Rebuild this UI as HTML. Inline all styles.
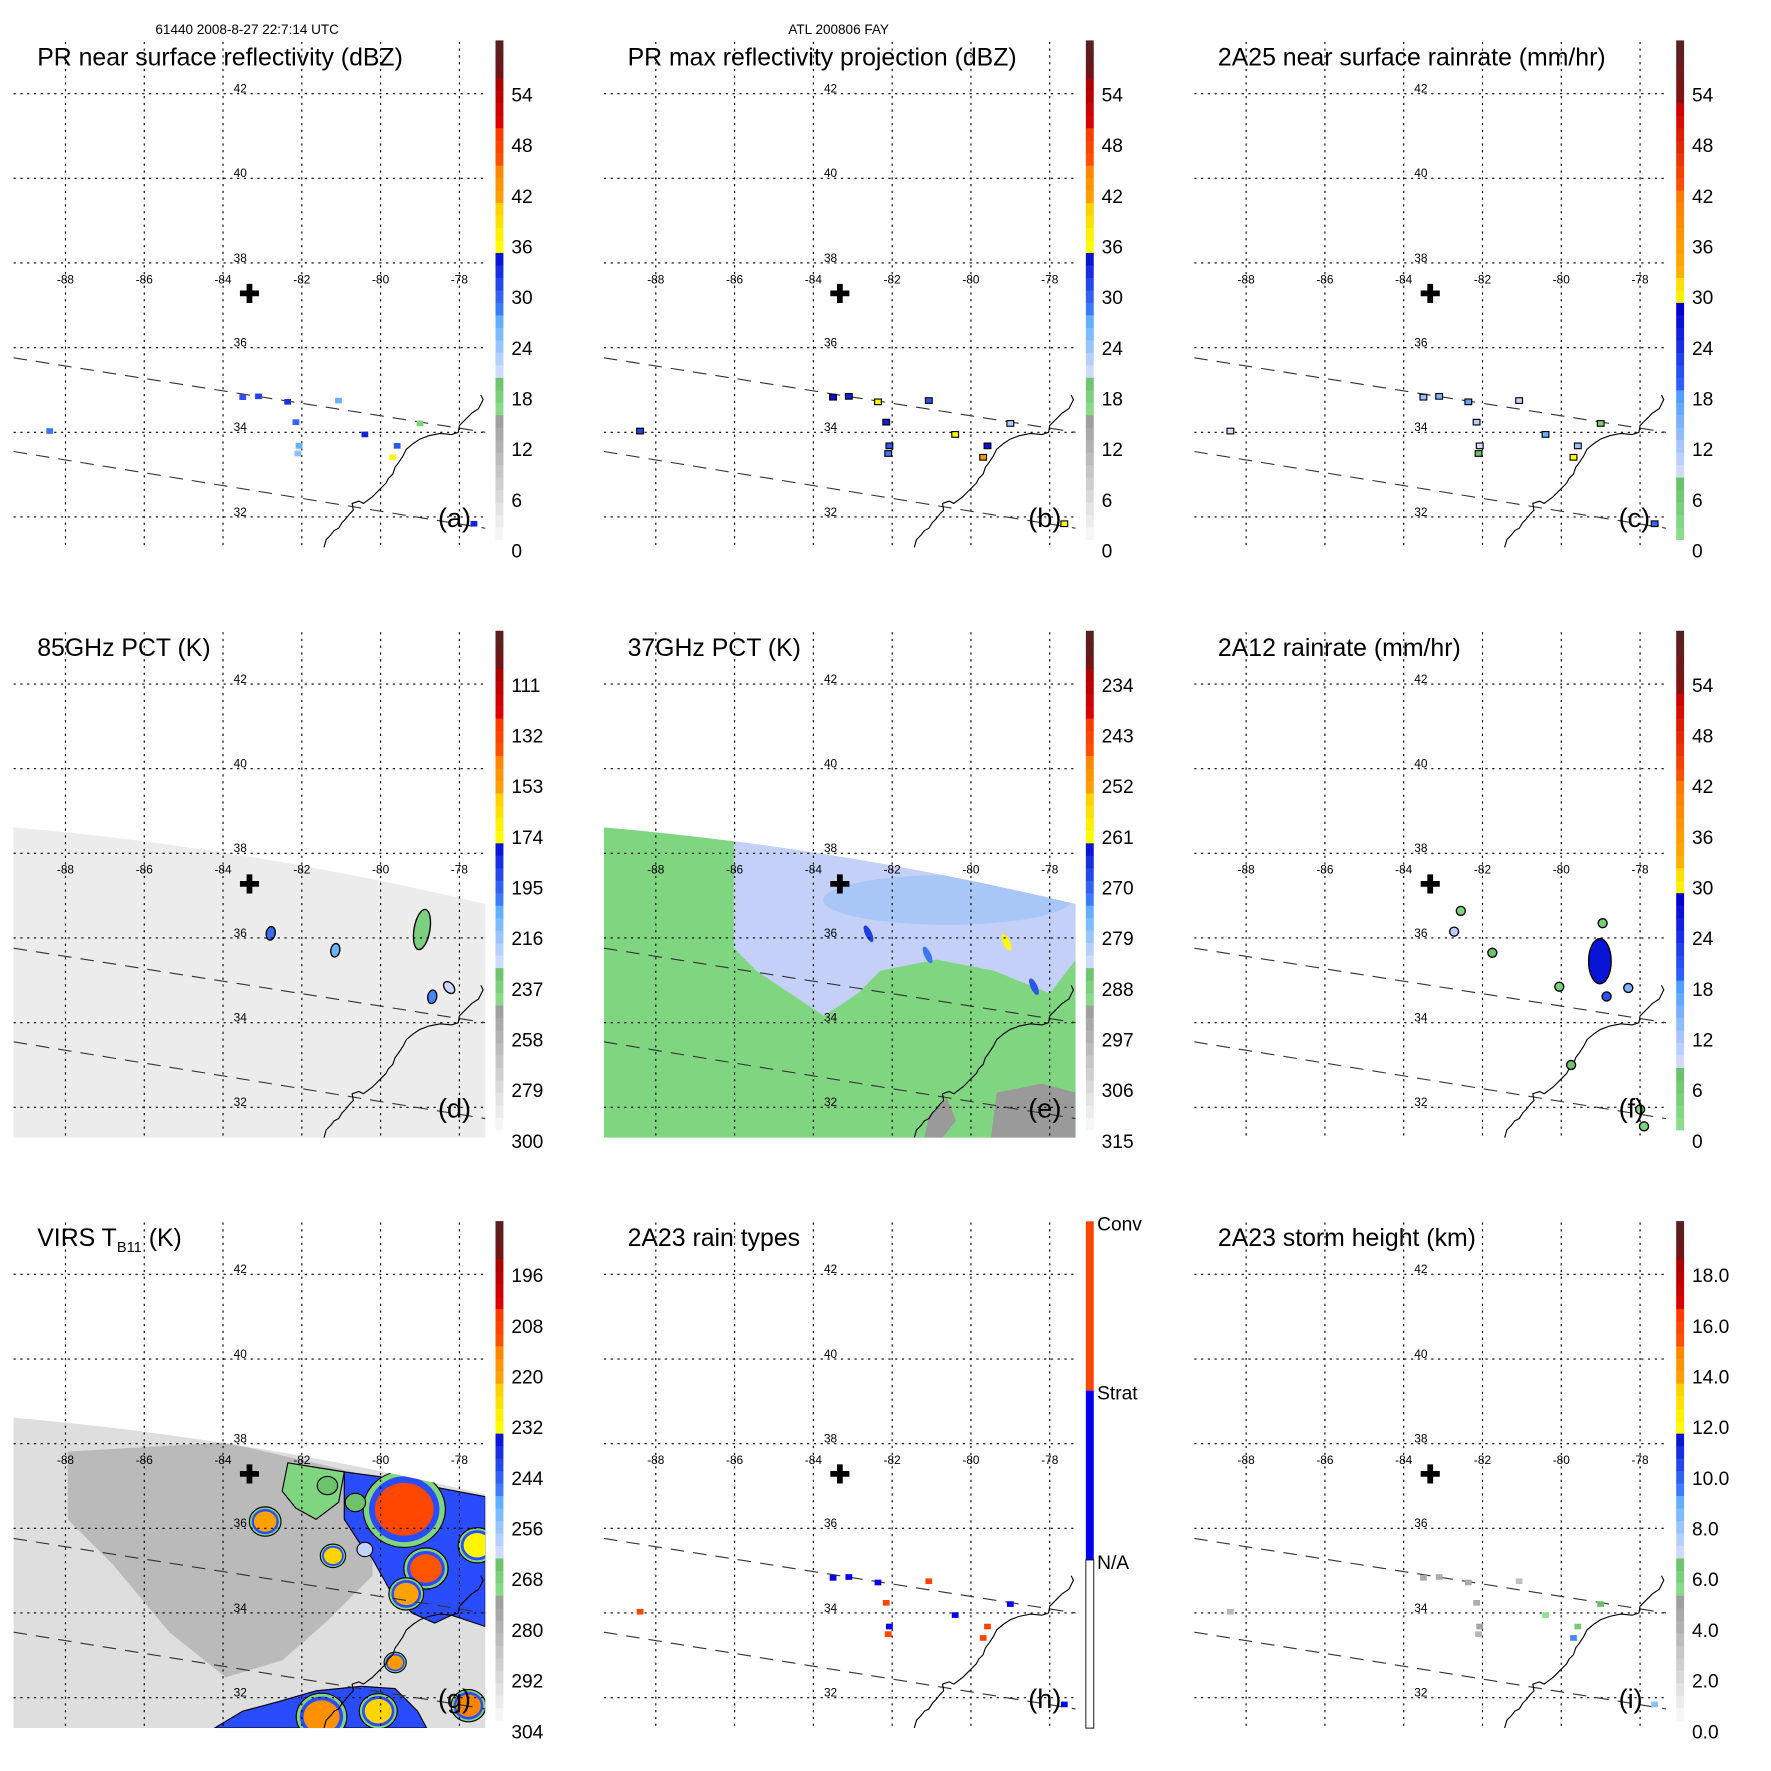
<!DOCTYPE html>
<html><head><meta charset="utf-8"><style>
html,body{margin:0;padding:0;background:#fff;}
svg{display:block;font-family:"Liberation Sans",sans-serif;}
</style></head><body>
<svg id="fig" width="1771" height="1771" viewBox="0 0 1569 1569" xmlns="http://www.w3.org/2000/svg">
<text x="219" y="30" font-size="12" text-anchor="middle">61440 2008-8-27 22:7:14 UTC</text>
<text x="743" y="30" font-size="12" text-anchor="middle">ATL 200806 FAY</text>
</svg>
<script>
// ---- data ----
const lonTicks=[-88,-86,-84,-82,-80,-78];
const latTicks=[42,40,38,36,34,32];
const titles=["PR near surface reflectivity (dBZ)","PR max reflectivity projection (dBZ)","2A25 near surface rainrate (mm/hr)","85GHz PCT (K)","37GHz PCT (K)","2A12 rainrate (mm/hr)","VIRS","2A23 rain types","2A23 storm height (km)"];
const letters=["(a)","(b)","(c)","(d)","(e)","(f)","(g)","(h)","(i)"];
const cbLabelsA=["0","6","12","18","24","30","36","42","48","54"];
const cbLabelsD=["300","279","258","237","216","195","174","153","132","111"];
const cbLabelsE=["315","306","297","288","279","270","261","252","243","234"];
const cbLabelsG=["304","292","280","268","256","244","232","220","208","196"];
const cbLabelsI=["0.0","2.0","4.0","6.0","8.0","10.0","12.0","14.0","16.0","18.0"];
const prCellLon=[-83.50,-82.36,-82.15,-82.07,-88.40,-79.69,-79.58,-77.63,-79.00,-81.07,-83.10,-80.40,-77.20,-82.10];
const prCellLat=[34.83,34.72,34.24,33.68,34.03,33.41,33.68,31.84,34.21,34.75,34.85,33.95,31.80,33.50];
const prNearSurf=[30,32,29,26,28,36,30,33,17,26,31,33,28,24];
const prMaxRefl=[34,36,33,30,31,42,34,35,22,30,33,36,31,28];
const prRainRate=[12,16,10,8,8,28,12,18,4,9,14,15,10,7];
const rainType=[1,1,2,1,2,2,2,1,1,2,1,1,2,2];
const stormHeight=[4.0,4.2,4.0,4.5,3.5,9.0,6.0,8.0,6.5,3.0,4.0,5.0,6.0,3.5];
const pct85Lon=[-82.79,-81.15,-78.95,-78.26,-78.69];
const pct85Lat=[36.11,35.71,36.20,34.83,34.61];
const pct85Val=[200,210,240,228,205];
const pct37Lon=[-82.6,-79.1,-78.4,-81.1];
const pct37Lat=[36.1,35.9,34.85,35.6];
const pct37Val=[268,262,270,273];
const tmiLon=[-82.72,-82.55,-78.95,-79.02,-78.30,-78.85,-80.05,-79.75,-81.75,-77.90,-78.0];
const tmiLat=[36.15,36.64,36.35,35.45,34.82,34.62,34.85,33.00,35.65,31.55,31.95];
const tmiRain=[10,3,4,26,14,20,4,6,7,3,3];
const virsLon=[-79.40,-78.85,-79.35,-77.55,-82.93,-81.21,-79.63,-81.50,-80.06,-77.77,-81.35,-80.64,-80.40];
const virsLat=[36.45,35.05,34.45,35.60,36.16,35.35,32.83,31.55,31.68,31.81,37.01,36.61,35.50];
const virsVal=[210,214,222,232,222,225,220,218,225,215,266,266,262];
const virsSize=[26,14,11,12,10,8,7,16,12,11,9,9,7];
// ---- helpers ----
const svg=document.getElementById('fig');
const NS="http://www.w3.org/2000/svg";
function mk(tag,attrs,parent){const e=document.createElementNS(NS,tag);for(const k in attrs)e.setAttribute(k,attrs[k]);(parent||svg).appendChild(e);return e;}
function px(lon){return 58+(lon+88)*34.9;}
function py(lat){return 83+(42-lat)*37.5;}
function hx(c){return [parseInt(c.substr(1,2),16),parseInt(c.substr(3,2),16),parseInt(c.substr(5,2),16)];}
function lerp(a,b,t){const A=hx(a),B=hx(b);return "rgb("+A.map((v,i)=>Math.round(v+(B[i]-v)*t)).join(",")+")";}
const bandsA=[[0,15,"#fbfbfb","#9a9a9a"],[15,20,"#8ee08e","#66bb66"],[20,27,"#d4dcff","#55aaff"],[27,35,"#4488ff","#0000cc"],[35,40,"#ffff00","#ffd000"],[40,45,"#ffaa00","#ff8000"],[45,50,"#ff5500","#ff3300"],[50,55,"#dd0000","#aa0000"],[55,60,"#771111","#552222"]];
const bandsC=[[0,8,"#8ee08e","#66bb66"],[8,18,"#d4dcff","#4499ff"],[18,28,"#3366ff","#0000cc"],[28,32,"#ffff00","#ffd000"],[32,42,"#ffb000","#ff7700"],[42,52,"#ff5500","#cc0000"],[52,60,"#881111","#552222"]];
function cmap(bands,v){v=Math.max(0,Math.min(59.9,v));for(const b of bands){if(v>=b[0]&&v<b[1])return lerp(b[2],b[3],(v-b[0])/(b[1]-b[0]));}return bands[bands.length-1][3];}
const bandOf=[bandsA,bandsA,bandsC,bandsA,bandsA,bandsC,bandsA,null,bandsA];
function swathPath(){return "M12,210 Q221,228 430,278 L430,485 L12,485 Z";}
const coast="M287,485 L289,478 L293,474 L296,470 L300,468 L303,463 L306,460 L310,455 L313,452 L312,446 L318,444 L322,446 L330,440 L334,436 L338,432 L342,428 L344,424 L348,420 L350,414 L353,410 L357,404 L360,398 L366,393 L372,389 L380,386 L390,384 L400,385 L406,383 L407,377 L412,372 L418,366 L424,362 L426,358 L428,354 L426,350";

for(let i=0;i<9;i++){
  const col=i%3,row=Math.floor(i/3);
  const g=mk('g',{transform:`translate(${col*523},${row*523})`});
  
  
  const cid='clip'+i;
  const cp=mk('clipPath',{id:cid},g);
  mk('rect',{x:12,y:37,width:418,height:448},cp);
  const map=mk('g',{'clip-path':`url(#${cid})`},g);
  
  
  if(i===3||i===4||i===6){
    const sw=mk('path',{d:swathPath(),fill:i===3?'#ececec':(i===4?'#80d680':'#dedede')},map);
    
    
    const sc='sclip'+i;const scp=mk('clipPath',{id:sc},g);mk('path',{d:swathPath()},scp);
    const inner=mk('g',{'clip-path':`url(#${sc})`},map);
    if(i===4){
      const pts=[[-86.02,39.5],[-77.0,39.5],[-77.0,35.49],[-77.34,35.49],[-78.00,34.69],[-79.43,35.23],[-80.87,35.49],[-82.30,35.23],[-82.87,34.69],[-83.73,34.16],[-84.59,34.69],[-85.45,35.23],[-86.02,35.76]];
      const p=mk('polygon',{points:pts.map(q=>px(q[0])+","+py(q[1])).join(" "),fill:'#c4d0f8'},inner);
      
      
      const p2=mk('ellipse',{cx:px(-80.6),cy:py(36.9),rx:110,ry:22,fill:'#a8c6f6'},inner);
      
      
      const gr=mk('polygon',{points:"360,445 400,437 430,445 430,485 355,485",fill:'#9a9a9a'},inner);
      
      
      const gr2=mk('polygon',{points:"300,465 316,450 324,470 312,485 296,485",fill:'#9a9a9a'},inner);
      
      
      pct37Lon.forEach((lo,k)=>{const e=mk('ellipse',{cx:px(lo),cy:py(pct37Lat[k]),rx:3,ry:8,fill:cmap(bandsA,(315-pct37Val[k])/9*6),transform:`rotate(-25 ${px(lo)} ${py(pct37Lat[k])})`},inner);
        
        });
    }
    if(i===6){
      const d=mk('polygon',{points:"60,240 200,232 330,262 330,350 290,390 250,425 200,440 150,400 100,340 60,300",fill:'#bababa'},inner);
      
      
      const h2=mk('polygon',{points:"255,250 305,258 300,285 280,300 262,290 250,275",fill:'#80d680',stroke:'#000','stroke-width':1},inner);
      
      
      const h1=mk('polygon',{points:"305,258 335,262 430,280 430,395 400,385 385,392 365,383 345,362 330,335 318,320 305,300",fill:'#2a4cff',stroke:'#000','stroke-width':1},inner);
      
      
      const h3=mk('polygon',{points:"190,485 215,470 245,462 280,452 320,448 350,450 370,470 378,485",fill:'#2a4cff',stroke:'#000','stroke-width':1},inner);
      
      
      virsLon.forEach((lo,k)=>{const v=virsVal[k];const cx=px(lo),cy=py(virsLat[k]);const s=virsSize[k];
        if(v<260){const o=mk('ellipse',{cx:cx,cy:cy,rx:s*1.4,ry:s*1.3,fill:'#80d680',stroke:'#000','stroke-width':1},inner);
          
          
          const b=mk('ellipse',{cx:cx,cy:cy,rx:s*1.2,ry:s*1.12,fill:'#2a4cff'},inner);
          
          }
        const c=mk('ellipse',{cx:cx,cy:cy,rx:s,ry:s*0.9,fill:cmap(bandsA,(304-v)/12*6),stroke:'#000','stroke-width':v<260?0:1},inner);
        
        });
    }
    if(i===3){
      pct85Lon.forEach((lo,k)=>{const big=k===2;const e=mk('ellipse',{cx:px(lo),cy:py(pct85Lat[k]),rx:big?7:4,ry:big?18:6,fill:cmap(bandsA,(300-pct85Val[k])/21*6),stroke:'#000','stroke-width':1.2,transform:`rotate(${k===3?-40:10} ${px(lo)} ${py(pct85Lat[k])})`},inner);
        
        });
    }
  }
  lonTicks.forEach(l=>{const ln=mk('line',{x1:px(l),x2:px(l),y1:37,y2:485,stroke:'#000','stroke-width':1,'stroke-dasharray':'2,4'},map);
    
    });
  latTicks.forEach(l=>{const ln=mk('line',{x1:12,x2:430,y1:py(l),y2:py(l),stroke:'#000','stroke-width':1,'stroke-dasharray':'2,4'},map);
    
    });
  [[12,317,430,383],[12,400,430,468]].forEach(s=>{const l=mk('line',{x1:s[0],y1:s[1],x2:s[2],y2:s[3],stroke:'#333','stroke-width':1,'stroke-dasharray':'12,8'},map);
    
    });
  const cst=mk('path',{d:coast,fill:'none',stroke:'#000','stroke-width':1},map);
  
  
  if([0,1,2,7,8].includes(i)){
    prCellLon.forEach((lo,k)=>{let fill;
      if(i===0)fill=cmap(bandsA,prNearSurf[k]);else if(i===1)fill=cmap(bandsA,prMaxRefl[k]);else if(i===2)fill=cmap(bandsC,prRainRate[k]);
      else if(i===7)fill=rainType[k]===2?'#ff4400':'#0000ee';else fill=cmap(bandsA,stormHeight[k]*3);
      const r=mk('rect',{x:px(lo)-3,y:py(prCellLat[k])-2.5,width:6,height:5,fill:fill,stroke:(i===1||i===2)?'#000':'none','stroke-width':1},map);
      
      });
  }
  if(i===5){
    tmiLon.forEach((lo,k)=>{const big=k===3;const e=mk('ellipse',{cx:px(lo),cy:py(tmiLat[k]),rx:big?10:4,ry:big?20:4,fill:cmap(bandsC,tmiRain[k]),stroke:'#000','stroke-width':1.2},map);
      
      });
  }
  lonTicks.forEach(l=>{const t=mk('text',{x:px(l),y:251,'font-size':10.5,'text-anchor':'middle'},map);t.textContent=l;
    
    });
  latTicks.forEach(l=>{const t=mk('text',{x:207,y:py(l)-1,'font-size':10.5},map);t.textContent=l;
    
    });
  const cr=mk('text',{x:221,y:268,'font-size':22,'font-weight':'bold','text-anchor':'middle'},map);cr.textContent='✚';
  
  
  const lt=mk('text',{x:388,y:467,'font-size':24},g);lt.textContent=letters[i];
  
  
  const tt=mk('text',{x:33,y:58,'font-size':22},g);
  if(i===6){tt.textContent='VIRS T';const ts=mk('tspan',{'font-size':13,dy:5},tt);ts.textContent='B11';const t2=mk('tspan',{dy:-5},tt);t2.textContent=' (K)';}
  else tt.textContent=titles[i];
  
  
  const cb=mk('g',{},g);
  
  
  if(i===7){
    [[36,186,'#ff4400','Conv'],[186,336,'#0000ee','Strat'],[336,485,'#ffffff','N/A']].forEach(s=>{const r=mk('rect',{x:439,y:s[0],width:7,height:s[1]-s[0],fill:s[2],stroke:s[2]==='#ffffff'?'#000':'none','stroke-width':0.8},cb);
      
      
      const t=mk('text',{x:449,y:s[0]+8,'font-size':17},cb);t.textContent=s[3];
      
      });
  } else {
    const bands=bandOf[i];
    for(let v=0;v<60;v+=1.5){const y0=478-(v+1.5)*7.37,y1=478-v*7.37;
      const r=mk('rect',{x:439,y:y0,width:7,height:y1-y0+0.4,fill:cmap(bands,v+0.75)},cb);
      
      }
    const labs=[cbLabelsA,cbLabelsA,cbLabelsA,cbLabelsD,cbLabelsE,cbLabelsA,cbLabelsG,null,cbLabelsI][i];
    labs.forEach((s,k)=>{const t=mk('text',{x:453,y:494-k*44.9,'font-size':17},cb);t.textContent=s;
      
      });
  }
}
</script>
</body></html>
